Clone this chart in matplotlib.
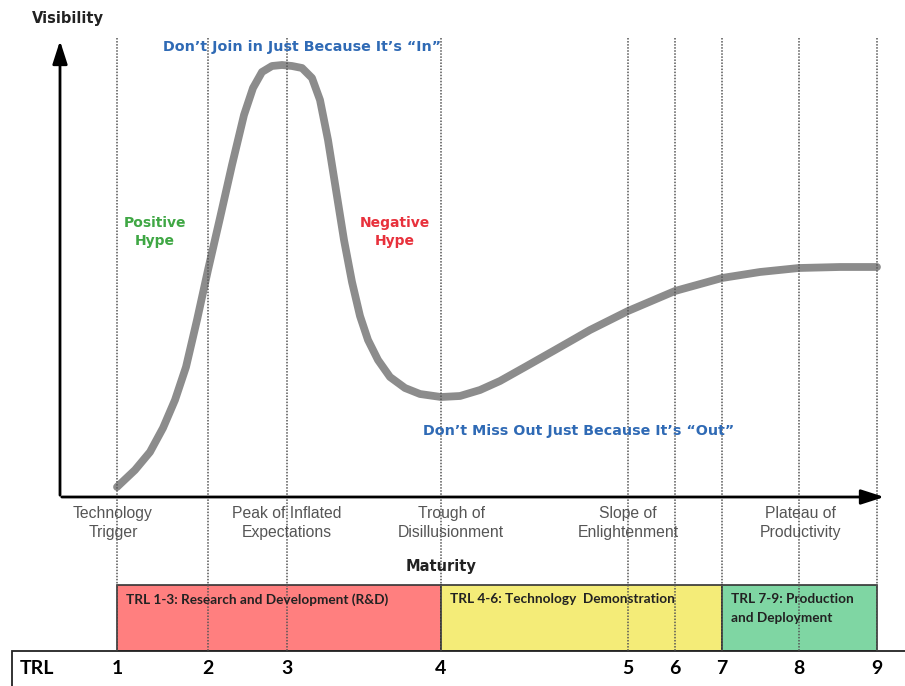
import numpy as np
import matplotlib.pyplot as plt
from matplotlib.patches import Rectangle

# TRL levels and where they sit along the maturity axis (pixel-like units)
trl_levels = [1, 2, 3, 4, 5, 6, 7, 8, 9]
trl_x = [117, 208, 287, 441, 628, 675, 722, 799, 877]

# hype curve (maturity, height from the top)
curve_x = [117, 135, 150, 163, 175, 186, 197, 208, 220, 232, 244, 253, 262, 272, 282, 292,
           302, 312, 320, 328, 336, 344, 352, 360, 368, 378, 390, 405, 420, 441, 460, 480,
           500, 525, 555, 590, 628, 675, 722, 760, 799, 840, 877]
curve_y = [487, 470, 452, 428, 400, 367, 320, 270, 218, 165, 115, 88, 72, 66, 65, 66,
           68, 78, 100, 140, 190, 240, 282, 316, 340, 360, 377, 388, 394, 397, 396, 390,
           381, 367, 350, 330, 311, 291, 278, 272, 268, 267, 267]

phases = ["Technology\nTrigger", "Peak of Inflated\nExpectations", "Trough of\nDisillusionment",
          "Slope of\nEnlightenment", "Plateau of\nProductivity"]
phase_x = [113, 287, 451, 628, 800]

bands = ["TRL 1-3: Research and Development (R&D)", "TRL 4-6: Technology  Demonstration",
         "TRL 7-9: Production\nand Deployment"]
band_start = [117, 441, 722]
band_end = [441, 722, 877]
band_colors = ["#ff7f7f", "#f4ec78", "#7fd6a3"]

fig = plt.figure(figsize=(9.05, 6.86), dpi=100)
ax = fig.add_axes([0, 0, 1, 1])
ax.set_xlim(0, 905)
ax.set_ylim(686, 0)
ax.axis("off")

# dotted TRL guide lines
for x in trl_x:
    ax.plot([x, x], [38, 651], color="#555555", lw=1.1, ls=(0, (1, 1)), zorder=3)

# axes with arrows
ax.annotate("", xy=(60, 38), xytext=(60, 498),
            arrowprops=dict(arrowstyle="-|>,head_length=1.4,head_width=0.45", color="black", lw=2))
ax.annotate("", xy=(887, 497), xytext=(59, 497),
            arrowprops=dict(arrowstyle="-|>,head_length=1.4,head_width=0.45", color="black", lw=2))
ax.text(68, 18, "Visibility", fontsize=10.5, weight="bold", ha="center", va="center", color="#222222")
ax.text(441, 567, "Maturity", fontsize=10.5, weight="bold", ha="center", va="center", color="#222222")

# hype curve
ax.plot(curve_x, curve_y, color="#8c8c8c", lw=5.6, solid_capstyle="round", solid_joinstyle="round", zorder=2)

# annotations
ax.text(302, 47, "Don\u2019t Join in Just Because It\u2019s \u201cIn\u201d", fontsize=10.3, weight="bold",
        color="#2f6ab5", ha="center", va="center", zorder=4)
ax.text(579, 431, "Don\u2019t Miss Out Just Because It\u2019s \u201cOut\u201d", fontsize=10.3, weight="bold",
        color="#2f6ab5", ha="center", va="center", zorder=4)
ax.text(155, 232, "Positive\nHype", fontsize=10, weight="bold", color="#3fa744",
        ha="center", va="center", linespacing=1.35)
ax.text(395, 232, "Negative\nHype", fontsize=10, weight="bold", color="#e8313c",
        ha="center", va="center", linespacing=1.35)

for name, x in zip(phases, phase_x):
    ax.text(x, 523, name, fontsize=11.3, color="#555555", ha="center", va="center",
            family="Liberation Sans", linespacing=1.3)

# TRL bands
for name, x0, x1, c in zip(bands, band_start, band_end, band_colors):
    ax.add_patch(Rectangle((x0, 585), x1 - x0, 66, facecolor=c, edgecolor="#333333", lw=1.2, zorder=1))
    ax.text(x0 + 9, 593, name, fontsize=9.8, weight="bold", family="Lato", color="#222222",
            ha="left", va="top", linespacing=1.75, zorder=4)

# TRL row
ax.add_patch(Rectangle((12, 651), 905, 40, facecolor="white", edgecolor="#222222", lw=1.3, zorder=1))
ax.text(20, 669, "TRL", fontsize=14, weight="bold", family="Lato", ha="left", va="center")
for lvl, x in zip(trl_levels, trl_x):
    ax.text(x, 669, str(lvl), fontsize=14, weight="bold", family="Lato", ha="center", va="center")

fig.savefig("out.png", dpi=100)
